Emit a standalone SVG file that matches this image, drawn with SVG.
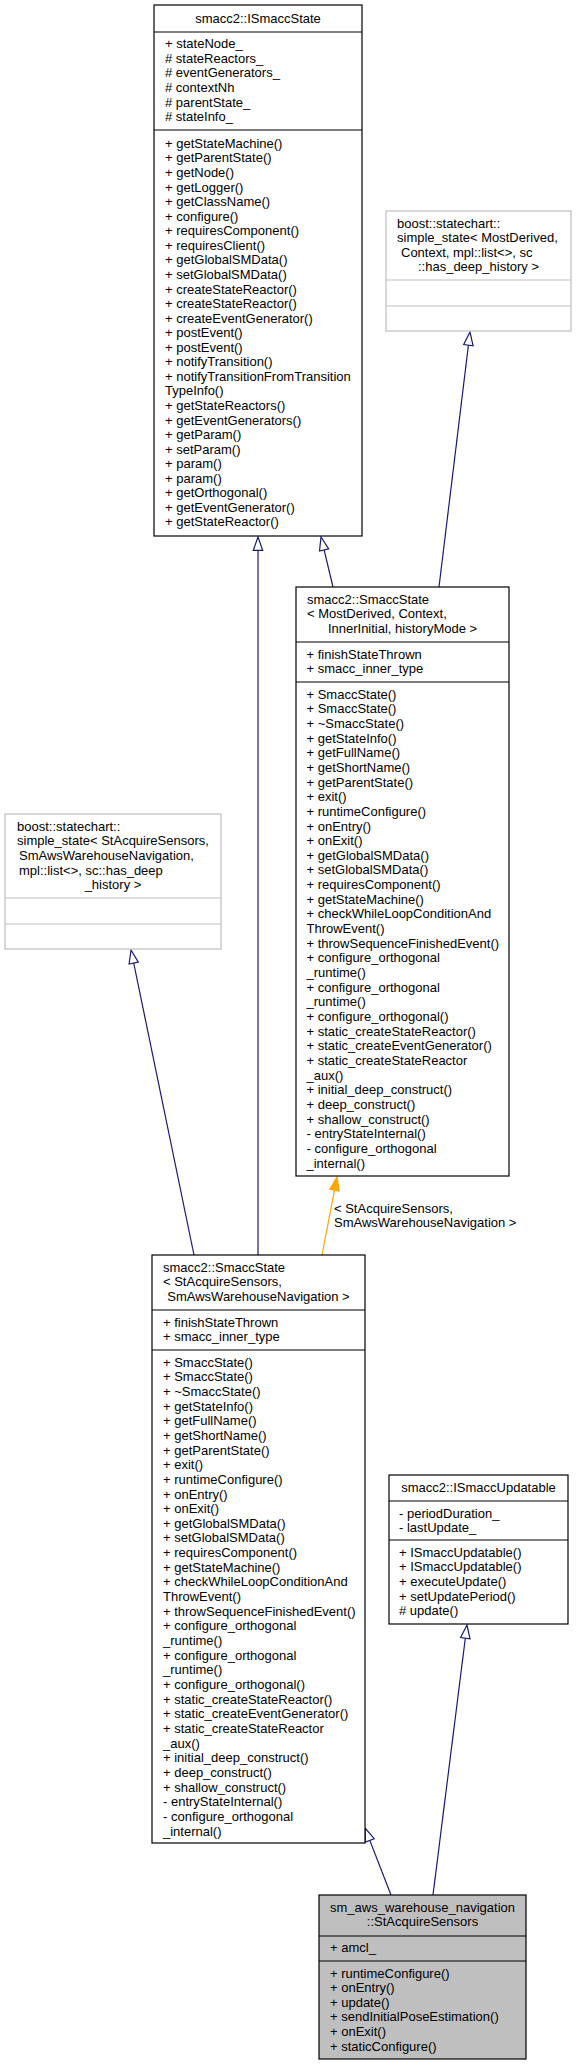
<svg xmlns="http://www.w3.org/2000/svg" width="576" height="2065" viewBox="0 0 576 2065">
<style>
text{font-family:"Liberation Sans",Arial,Helvetica,sans-serif;font-size:13px;fill:#000}
.c{text-anchor:middle}
.box{fill:#fff;stroke:#000;stroke-width:1.2}
.gbox{fill:#fff;stroke:#bfbfbf;stroke-width:1.2}
.cur{fill:#bfbfbf;stroke:#000;stroke-width:1.2}
.sep{stroke:#000;stroke-width:1.2}
.gsep{stroke:#bfbfbf;stroke-width:1.2}
.e{stroke:#191970;stroke-width:1.2;fill:none}
.ah{stroke:#191970;stroke-width:1.2;fill:#fff}
.o{stroke:#ffa500;stroke-width:1.2;fill:none}
.oah{stroke:#ffa500;stroke-width:1.2;fill:#ffa500}
</style>
<g id="edges">
<line class="e" x1="258" y1="550.3" x2="258" y2="1255"/>
<polygon class="ah" points="258,537 253.3,550.3 262.7,550.3"/>
<line class="e" x1="324.1" y1="549.9" x2="333" y2="587"/>
<polygon class="ah" points="321,537 319.5,551 328.7,548.8"/>
<line class="e" x1="468.4" y1="345.2" x2="439" y2="587"/>
<polygon class="ah" points="470,332 463.7,344.6 473.1,345.8"/>
<line class="e" x1="133.7" y1="963" x2="194" y2="1255"/>
<polygon class="ah" points="131,950 129.1,964 138.3,962.1"/>
<line class="o" x1="334.5" y1="1190.1" x2="322" y2="1255"/>
<polygon class="oah" points="337,1177 329.9,1189.2 339.1,1191"/>
<text x="334" y="1212.6">&lt; StAcquireSensors,</text>
<text x="334" y="1227.2">SmAwsWarehouseNavigation &gt;</text>
<line class="e" x1="465.3" y1="1638.2" x2="433" y2="1895"/>
<polygon class="ah" points="467,1625 460.6,1637.6 470,1638.8"/>
<line class="e" x1="369.8" y1="1840.4" x2="391" y2="1895"/>
<polygon class="ah" points="365,1828 365.4,1842.1 374.2,1838.7"/>
</g>
<g id="ISmaccState">
<rect class="box" x="154" y="5" width="208" height="531"/>
<line class="sep" x1="154" y1="32" x2="362" y2="32"/>
<line class="sep" x1="154" y1="130" x2="362" y2="130"/>
<text class="c" x="258" y="23">smacc2::ISmaccState</text>
<text><tspan x="165" y="48">+ stateNode_</tspan><tspan x="165" dy="14.67"># stateReactors_</tspan><tspan x="165" dy="14.67"># eventGenerators_</tspan><tspan x="165" dy="14.67"># contextNh</tspan><tspan x="165" dy="14.67"># parentState_</tspan><tspan x="165" dy="14.67"># stateInfo_</tspan></text>
<text><tspan x="165" y="147.9">+ getStateMachine()</tspan><tspan x="165" dy="14.56">+ getParentState()</tspan><tspan x="165" dy="14.56">+ getNode()</tspan><tspan x="165" dy="14.56">+ getLogger()</tspan><tspan x="165" dy="14.56">+ getClassName()</tspan><tspan x="165" dy="14.56">+ configure()</tspan><tspan x="165" dy="14.56">+ requiresComponent()</tspan><tspan x="165" dy="14.56">+ requiresClient()</tspan><tspan x="165" dy="14.56">+ getGlobalSMData()</tspan><tspan x="165" dy="14.56">+ setGlobalSMData()</tspan><tspan x="165" dy="14.56">+ createStateReactor()</tspan><tspan x="165" dy="14.56">+ createStateReactor()</tspan><tspan x="165" dy="14.56">+ createEventGenerator()</tspan><tspan x="165" dy="14.56">+ postEvent()</tspan><tspan x="165" dy="14.56">+ postEvent()</tspan><tspan x="165" dy="14.56">+ notifyTransition()</tspan><tspan x="165" dy="14.56">+ notifyTransitionFromTransition</tspan><tspan x="165" dy="14.56">TypeInfo()</tspan><tspan x="165" dy="14.56">+ getStateReactors()</tspan><tspan x="165" dy="14.56">+ getEventGenerators()</tspan><tspan x="165" dy="14.56">+ getParam()</tspan><tspan x="165" dy="14.56">+ setParam()</tspan><tspan x="165" dy="14.56">+ param()</tspan><tspan x="165" dy="14.56">+ param()</tspan><tspan x="165" dy="14.56">+ getOrthogonal()</tspan><tspan x="165" dy="14.56">+ getEventGenerator()</tspan><tspan x="165" dy="14.56">+ getStateReactor()</tspan></text>
</g>
<g id="SimpleStateMostDerived">
<rect class="gbox" x="386" y="211" width="185" height="120"/>
<line class="gsep" x1="386" y1="280" x2="571" y2="280"/>
<line class="gsep" x1="386" y1="306" x2="571" y2="306"/>
<text x="397" y="227.6">boost::statechart::</text>
<text x="397" y="242.2">simple_state&lt; MostDerived,</text>
<text x="401" y="256.8">Context, mpl::list&lt;&gt;, sc</text>
<text class="c" x="478.5" y="271.4">::has_deep_history &gt;</text>
</g>
<g id="SmaccStateMostDerived">
<rect class="box" x="296" y="587" width="213" height="589"/>
<line class="sep" x1="296" y1="642" x2="509" y2="642"/>
<line class="sep" x1="296" y1="682" x2="509" y2="682"/>
<text x="307" y="603.6">smacc2::SmaccState</text>
<text x="307" y="618.2">&lt; MostDerived, Context,</text>
<text class="c" x="402.5" y="632.8">InnerInitial, historyMode &gt;</text>
<text><tspan x="306.5" y="658.6">+ finishStateThrown</tspan><tspan x="306.5" dy="14.656">+ smacc_inner_type</tspan></text>
<text><tspan x="306.5" y="698.6">+ SmaccState()</tspan><tspan x="306.5" dy="14.656">+ SmaccState()</tspan><tspan x="306.5" dy="14.656">+ ~SmaccState()</tspan><tspan x="306.5" dy="14.656">+ getStateInfo()</tspan><tspan x="306.5" dy="14.656">+ getFullName()</tspan><tspan x="306.5" dy="14.656">+ getShortName()</tspan><tspan x="306.5" dy="14.656">+ getParentState()</tspan><tspan x="306.5" dy="14.656">+ exit()</tspan><tspan x="306.5" dy="14.656">+ runtimeConfigure()</tspan><tspan x="306.5" dy="14.656">+ onEntry()</tspan><tspan x="306.5" dy="14.656">+ onExit()</tspan><tspan x="306.5" dy="14.656">+ getGlobalSMData()</tspan><tspan x="306.5" dy="14.656">+ setGlobalSMData()</tspan><tspan x="306.5" dy="14.656">+ requiresComponent()</tspan><tspan x="306.5" dy="14.656">+ getStateMachine()</tspan><tspan x="306.5" dy="14.656">+ checkWhileLoopConditionAnd</tspan><tspan x="306.5" dy="14.656">ThrowEvent()</tspan><tspan x="306.5" dy="14.656">+ throwSequenceFinishedEvent()</tspan><tspan x="306.5" dy="14.656">+ configure_orthogonal</tspan><tspan x="306.5" dy="14.656">_runtime()</tspan><tspan x="306.5" dy="14.656">+ configure_orthogonal</tspan><tspan x="306.5" dy="14.656">_runtime()</tspan><tspan x="306.5" dy="14.656">+ configure_orthogonal()</tspan><tspan x="306.5" dy="14.656">+ static_createStateReactor()</tspan><tspan x="306.5" dy="14.656">+ static_createEventGenerator()</tspan><tspan x="306.5" dy="14.656">+ static_createStateReactor</tspan><tspan x="306.5" dy="14.656">_aux()</tspan><tspan x="306.5" dy="14.656">+ initial_deep_construct()</tspan><tspan x="306.5" dy="14.656">+ deep_construct()</tspan><tspan x="306.5" dy="14.656">+ shallow_construct()</tspan><tspan x="306.5" dy="14.656">- entryStateInternal()</tspan><tspan x="306.5" dy="14.656">- configure_orthogonal</tspan><tspan x="306.5" dy="14.656">_internal()</tspan></text>
</g>
<g id="SimpleStateStAcquireSensors">
<rect class="gbox" x="5" y="814" width="216" height="135"/>
<line class="gsep" x1="5" y1="898" x2="221" y2="898"/>
<line class="gsep" x1="5" y1="924" x2="221" y2="924"/>
<text x="17" y="830.6">boost::statechart::</text>
<text x="17" y="845.3">simple_state&lt; StAcquireSensors,</text>
<text x="19" y="860">SmAwsWarehouseNavigation,</text>
<text x="19" y="874.6">mpl::list&lt;&gt;, sc::has_deep</text>
<text class="c" x="113" y="889.3">_history &gt;</text>
</g>
<g id="SmaccStateStAcquireSensors">
<rect class="box" x="152" y="1255" width="213" height="588"/>
<line class="sep" x1="152" y1="1310" x2="365" y2="1310"/>
<line class="sep" x1="152" y1="1350" x2="365" y2="1350"/>
<text x="163" y="1271.6">smacc2::SmaccState</text>
<text x="163" y="1286.2">&lt; StAcquireSensors,</text>
<text class="c" x="258.5" y="1300.8">SmAwsWarehouseNavigation &gt;</text>
<text><tspan x="163" y="1326.6">+ finishStateThrown</tspan><tspan x="163" dy="14.656">+ smacc_inner_type</tspan></text>
<text><tspan x="163" y="1366.6">+ SmaccState()</tspan><tspan x="163" dy="14.656">+ SmaccState()</tspan><tspan x="163" dy="14.656">+ ~SmaccState()</tspan><tspan x="163" dy="14.656">+ getStateInfo()</tspan><tspan x="163" dy="14.656">+ getFullName()</tspan><tspan x="163" dy="14.656">+ getShortName()</tspan><tspan x="163" dy="14.656">+ getParentState()</tspan><tspan x="163" dy="14.656">+ exit()</tspan><tspan x="163" dy="14.656">+ runtimeConfigure()</tspan><tspan x="163" dy="14.656">+ onEntry()</tspan><tspan x="163" dy="14.656">+ onExit()</tspan><tspan x="163" dy="14.656">+ getGlobalSMData()</tspan><tspan x="163" dy="14.656">+ setGlobalSMData()</tspan><tspan x="163" dy="14.656">+ requiresComponent()</tspan><tspan x="163" dy="14.656">+ getStateMachine()</tspan><tspan x="163" dy="14.656">+ checkWhileLoopConditionAnd</tspan><tspan x="163" dy="14.656">ThrowEvent()</tspan><tspan x="163" dy="14.656">+ throwSequenceFinishedEvent()</tspan><tspan x="163" dy="14.656">+ configure_orthogonal</tspan><tspan x="163" dy="14.656">_runtime()</tspan><tspan x="163" dy="14.656">+ configure_orthogonal</tspan><tspan x="163" dy="14.656">_runtime()</tspan><tspan x="163" dy="14.656">+ configure_orthogonal()</tspan><tspan x="163" dy="14.656">+ static_createStateReactor()</tspan><tspan x="163" dy="14.656">+ static_createEventGenerator()</tspan><tspan x="163" dy="14.656">+ static_createStateReactor</tspan><tspan x="163" dy="14.656">_aux()</tspan><tspan x="163" dy="14.656">+ initial_deep_construct()</tspan><tspan x="163" dy="14.656">+ deep_construct()</tspan><tspan x="163" dy="14.656">+ shallow_construct()</tspan><tspan x="163" dy="14.656">- entryStateInternal()</tspan><tspan x="163" dy="14.656">- configure_orthogonal</tspan><tspan x="163" dy="14.656">_internal()</tspan></text>
</g>
<g id="ISmaccUpdatable">
<rect class="box" x="389" y="1475" width="179" height="149"/>
<line class="sep" x1="389" y1="1501" x2="568" y2="1501"/>
<line class="sep" x1="389" y1="1540" x2="568" y2="1540"/>
<text class="c" x="478.5" y="1491.6">smacc2::ISmaccUpdatable</text>
<text><tspan x="399" y="1517.6">- periodDuration_</tspan><tspan x="399" dy="14.65">- lastUpdate_</tspan></text>
<text><tspan x="399" y="1556.6">+ ISmaccUpdatable()</tspan><tspan x="399" dy="14.65">+ ISmaccUpdatable()</tspan><tspan x="399" dy="14.65">+ executeUpdate()</tspan><tspan x="399" dy="14.65">+ setUpdatePeriod()</tspan><tspan x="399" dy="14.65"># update()</tspan></text>
</g>
<g id="StAcquireSensors">
<rect class="cur" x="319" y="1895" width="207" height="164"/>
<line class="sep" x1="319" y1="1936" x2="526" y2="1936"/>
<line class="sep" x1="319" y1="1961" x2="526" y2="1961"/>
<text class="c" x="422.5" y="1911.6">sm_aws_warehouse_navigation</text>
<text class="c" x="422.5" y="1926.3">::StAcquireSensors</text>
<text x="330" y="1951.6">+ amcl_</text>
<text><tspan x="330" y="1977.6">+ runtimeConfigure()</tspan><tspan x="330" dy="14.6">+ onEntry()</tspan><tspan x="330" dy="14.6">+ update()</tspan><tspan x="330" dy="14.6">+ sendInitialPoseEstimation()</tspan><tspan x="330" dy="14.6">+ onExit()</tspan><tspan x="330" dy="14.6">+ staticConfigure()</tspan></text>
</g>
</svg>
